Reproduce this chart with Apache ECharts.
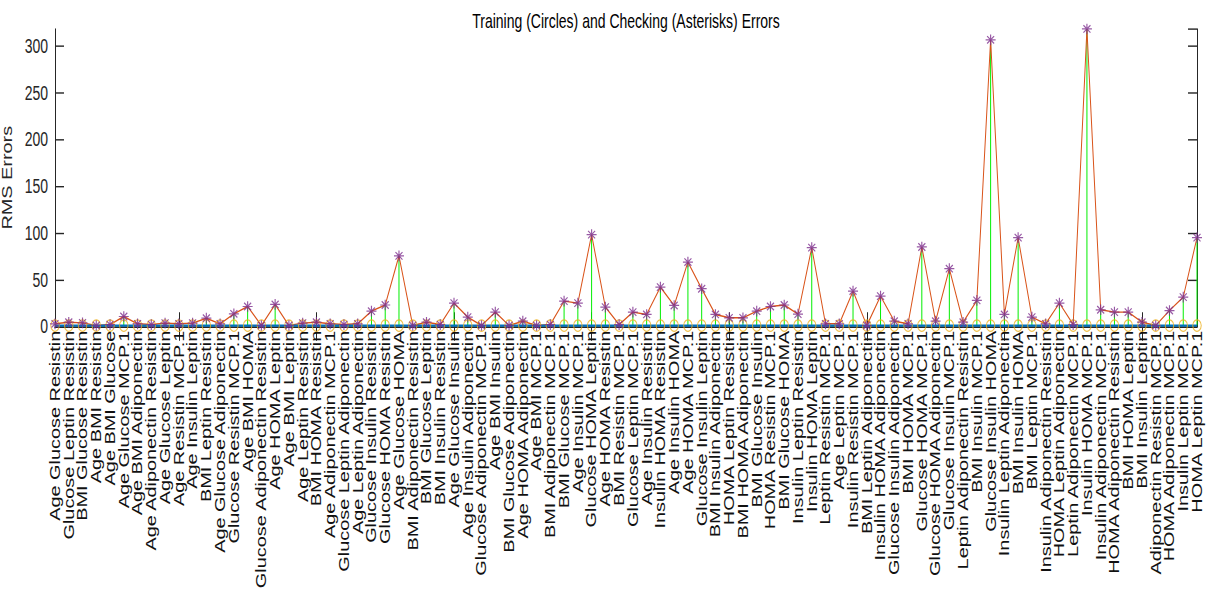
<!DOCTYPE html>
<html>
<head>
<meta charset="utf-8">
<script src="https://cdn.jsdelivr.net/npm/echarts@6/dist/echarts.min.js"></script>
<style>
  html, body { margin: 0; padding: 0; background: #fff; width: 1210px; height: 592px; }
  #wrap { width: 1210px; height: 417px; transform: scaleY(1.41966); transform-origin: 0 0; }
</style>
</head>
<body>
<div id="wrap"></div>
<script>
// Input combinations (x categories)
const categories = [
  "Age Glucose Resistin", "Glucose Leptin Resistin", "BMI Glucose Resistin", "Age BMI Resistin",
  "Age BMI Glucose", "Age Glucose MCP.1", "Age BMI Adiponectin", "Age Adiponectin Resistin",
  "Age Glucose Leptin", "Age Resistin MCP.1", "Age Insulin Leptin", "BMI Leptin Resistin",
  "Age Glucose Adiponectin", "Glucose Resistin MCP.1", "Age BMI HOMA", "Glucose Adiponectin Resistin",
  "Age HOMA Leptin", "Age BMI Leptin", "Age Leptin Resistin", "BMI HOMA Resistin",
  "Age Adiponectin MCP.1", "Glucose Leptin Adiponectin", "Age Leptin Adiponectin", "Glucose Insulin Resistin",
  "Glucose HOMA Resistin", "Age Glucose HOMA", "BMI Adiponectin Resistin", "BMI Glucose Leptin",
  "BMI Insulin Resistin", "Age Glucose Insulin", "Age Insulin Adiponectin", "Glucose Adiponectin MCP.1",
  "Age BMI Insulin", "BMI Glucose Adiponectin", "Age HOMA Adiponectin", "Age BMI MCP.1",
  "BMI Adiponectin MCP.1", "BMI Glucose MCP.1", "Age Insulin MCP.1", "Glucose HOMA Leptin",
  "Age HOMA Resistin", "BMI Resistin MCP.1", "Glucose Leptin MCP.1", "Age Insulin Resistin",
  "Insulin HOMA Resistin", "Age Insulin HOMA", "Age HOMA MCP.1", "Glucose Insulin Leptin",
  "BMI Insulin Adiponectin", "HOMA Leptin Resistin", "BMI HOMA Adiponectin", "BMI Glucose Insulin",
  "HOMA Resistin MCP.1", "BMI Glucose HOMA", "Insulin Leptin Resistin", "Insulin HOMA Leptin",
  "Leptin Resistin MCP.1", "Age Leptin MCP.1", "Insulin Resistin MCP.1", "BMI Leptin Adiponectin",
  "Insulin HOMA Adiponectin", "Glucose Insulin Adiponectin", "BMI HOMA MCP.1", "Glucose HOMA MCP.1",
  "Glucose HOMA Adiponectin", "Glucose Insulin MCP.1", "Leptin Adiponectin Resistin", "BMI Insulin MCP.1",
  "Glucose Insulin HOMA", "Insulin Leptin Adiponectin", "BMI Insulin HOMA", "BMI Leptin MCP.1",
  "Insulin Adiponectin Resistin", "HOMA Leptin Adiponectin", "Leptin Adiponectin MCP.1", "Insulin HOMA MCP.1",
  "Insulin Adiponectin MCP.1", "HOMA Adiponectin Resistin", "BMI HOMA Leptin", "BMI Insulin Leptin",
  "Adiponectin Resistin MCP.1", "HOMA Adiponectin MCP.1", "Insulin Leptin MCP.1", "HOMA Leptin MCP.1"
];

// Training RMS errors (circles) - all read as ~1
const trainingErrors = [
  1,1,1,1,1,1,1,1,1,1, 1,1,1,1,1,1,1,1,1,1,
  1,1,1,1,1,1,1,1,1,1, 1,1,1,1,1,1,1,1,1,1,
  1,1,1,1,1,1,1,1,1,1, 1,1,1,1,1,1,1,1,1,1,
  1,1,1,1,1,1,1,1,1,1, 1,1,1,1,1,1,1,1,1,1,
  1,1,1,1
];

// Checking RMS errors (asterisks)
const checkingErrors = [
  2.9, 4.6, 3.9, 1.1, 2.1, 10.7, 2.9, 2.1, 3.6, 2.9,
  3.6, 8.9, 2.9, 13.6, 21.4, 1.1, 23.6, 1.1, 3.6, 4.6,
  2.9, 2.1, 2.9, 16.4, 23, 75.5, 1.1, 4.6, 2.1, 25,
  10, 1.1, 15.4, 1.1, 5.7, 1.1, 2.1, 27.1, 25, 98.2,
  20.7, 2.1, 15.4, 12.9, 42.1, 22.5, 68.9, 40.4, 12.9, 9.3,
  9.3, 16.4, 21.4, 23, 13.2, 84.3, 2.9, 2.9, 37.9, 1.1,
  32.5, 5.7, 2.9, 85, 5.7, 61.8, 4.6, 27.9, 306.4, 12.9,
  95, 10, 2.9, 25, 2.1, 318, 17.9, 15.4, 15.4, 4.6,
  1.1, 17.1, 31.4, 95
];

const yTicks = [0, 50, 100, 150, 200, 250, 300];

const chart = echarts.init(document.getElementById('wrap'), null, { renderer: 'svg' });
const FONT = 'Liberation Sans, Arial, Helvetica, sans-serif';
const AX = '#262626';
const asterisk = 'path://M5,0L5,10M0,5L10,5M1.5,1.5L8.5,8.5M1.5,8.5L8.5,1.5';
const tickEvery10 = function (index) { return index % 10 === 9; };

const stemData = categories.map((c, i) => [i, trainingErrors[i], checkingErrors[i]]);

chart.setOption({
  animation: false,
  backgroundColor: '#fff',
  title: {
    text: 'Training (Circles) and Checking (Asterisks) Errors',
    left: 621, textAlign: 'center', top: 3,
    textStyle: { fontFamily: FONT, fontSize: 14, fontWeight: 'normal', color: '#000' }
  },
  grid: { left: 55, right: 13, top: 20.4, bottom: 187, containLabel: false, outerBoundsMode: 'none' },
  xAxis: [
    {
      type: 'category', data: categories, boundaryGap: false, position: 'bottom',
      axisLine: { show: true, lineStyle: { color: AX, width: 1 } },
      axisTick: { show: true, inside: true, length: 10, interval: tickEvery10, lineStyle: { color: AX, width: 1 } },
      axisLabel: { interval: 0, rotate: 90, margin: 3, fontFamily: FONT, fontSize: 14, color: '#111',
                   overflow: 'none', hideOverlap: false },
      splitLine: { show: false }
    },
    {
      type: 'category', data: categories, boundaryGap: false, position: 'top',
      axisLine: { show: true, lineStyle: { color: AX, width: 1 } },
      axisTick: { show: true, inside: true, length: 10, interval: tickEvery10, lineStyle: { color: AX, width: 1 } },
      axisLabel: { show: false },
      splitLine: { show: false }
    }
  ],
  yAxis: [
    {
      type: 'value', min: 0, max: 318, interval: 50, position: 'left',
      name: 'RMS Errors', nameLocation: 'middle', nameGap: 29,
      nameTextStyle: { fontFamily: FONT, fontSize: 14, color: AX },
      axisLine: { show: true, lineStyle: { color: AX, width: 1 } },
      axisTick: { show: true, inside: true, length: 9, lineStyle: { color: AX, width: 1 } },
      axisLabel: {
        margin: 7, fontFamily: FONT, fontSize: 14, color: AX, showMaxLabel: false,
        formatter: function (v) { return yTicks.indexOf(v) >= 0 ? String(v) : ''; }
      },
      splitLine: { show: false }
    },
    {
      type: 'value', min: 0, max: 318, interval: 50, position: 'right',
      axisLine: { show: true, lineStyle: { color: AX, width: 1 } },
      axisTick: { show: true, inside: true, length: 9, lineStyle: { color: AX, width: 1 } },
      axisLabel: { show: false },
      splitLine: { show: false }
    }
  ],
  series: [
    {
      type: 'custom', name: 'stems', xAxisIndex: 0, yAxisIndex: 0, z: 1,
      data: stemData, encode: { x: 0, y: [1, 2] },
      renderItem: function (params, api) {
        const p0 = api.coord([api.value(0), api.value(1)]);
        const p1 = api.coord([api.value(0), api.value(2)]);
        return { type: 'line', shape: { x1: p0[0], y1: p0[1], x2: p1[0], y2: p1[1] },
                 style: { stroke: '#00ee00', lineWidth: 1 } };
      }
    },
    {
      type: 'line', name: 'checking line', data: checkingErrors, z: 2,
      symbol: 'none', lineStyle: { color: '#D95319', width: 1 }, clip: false
    },
    {
      type: 'line', name: 'training line', data: trainingErrors, z: 3,
      symbol: 'none', lineStyle: { color: '#0072BD', width: 1.6 }
    },
    {
      type: 'scatter', name: 'training', data: trainingErrors, z: 4,
      symbol: 'circle', symbolSize: [8.5, 8], clip: false,
      itemStyle: { color: 'rgba(0,0,0,0)', borderColor: '#EDB120', borderWidth: 1 }
    },
    {
      type: 'scatter', name: 'checking', data: checkingErrors, z: 5,
      symbol: asterisk, symbolSize: [10, 7.5], clip: false,
      itemStyle: { color: 'rgba(0,0,0,0)', borderColor: '#7E2F8E', borderWidth: 1 }
    }
  ]
});
</script>
</body>
</html>
